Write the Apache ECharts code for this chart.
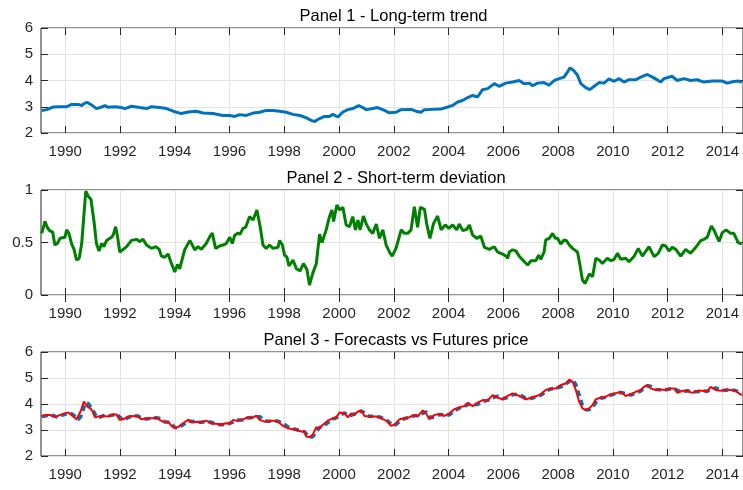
<!DOCTYPE html>
<html><head><meta charset="utf-8">
<script src="https://cdn.jsdelivr.net/npm/echarts@6/dist/echarts.min.js"></script>
<style>html,body{margin:0;padding:0;background:#fff}#c{width:743px;height:490px}</style>
</head><body><div id="c"></div>
<script>
const xTickYears = [1990,1992,1994,1996,1998,2000,2002,2004,2006,2008,2010,2012,2014];
const panelTitles = ['Panel 1 - Long-term trend','Panel 2 - Short-term deviation','Panel 3 - Forecasts vs Futures price'];

const p1Years = [1989.14,1989.32,1989.56,1989.81,1990.05,1990.23,1990.47,1990.60,1990.72,1990.80,1990.96,1991.14,1991.33,1991.45,1991.57,1991.81,1992.05,1992.18,1992.42,1992.72,1992.97,1993.15,1993.45,1993.70,1993.94,1994.24,1994.49,1994.79,1995.03,1995.40,1995.76,1996.01,1996.19,1996.37,1996.61,1996.86,1997.10,1997.34,1997.59,1997.83,1998.07,1998.32,1998.56,1998.80,1998.98,1999.11,1999.29,1999.47,1999.65,1999.77,1999.96,2000.14,2000.32,2000.50,2000.72,2000.87,2000.99,2001.23,2001.41,2001.66,2001.84,2002.08,2002.26,2002.63,2002.81,2002.99,2003.12,2003.42,2003.72,2003.97,2004.15,2004.33,2004.51,2004.70,2004.88,2005.06,2005.24,2005.43,2005.67,2005.85,2006.09,2006.34,2006.58,2006.76,2006.95,2007.07,2007.25,2007.49,2007.67,2007.86,2008.04,2008.22,2008.34,2008.44,2008.59,2008.71,2008.83,2009.01,2009.16,2009.32,2009.50,2009.68,2009.86,2010.05,2010.23,2010.41,2010.59,2010.84,2011.02,2011.26,2011.50,2011.75,2011.87,2012.17,2012.35,2012.60,2012.84,2013.08,2013.33,2013.63,2014.00,2014.18,2014.42,2014.60,2014.71];
const p1Trend = [2.86,2.89,2.99,3.00,3.00,3.09,3.09,3.05,3.14,3.17,3.07,2.93,2.99,3.04,2.98,3.00,2.97,2.93,3.02,2.97,2.93,3.00,2.97,2.93,2.83,2.74,2.80,2.83,2.76,2.74,2.67,2.67,2.63,2.70,2.67,2.76,2.79,2.86,2.86,2.83,2.79,2.71,2.67,2.58,2.48,2.44,2.55,2.63,2.63,2.71,2.61,2.80,2.89,2.93,3.04,2.97,2.89,2.93,2.97,2.86,2.77,2.79,2.89,2.90,2.83,2.79,2.89,2.90,2.91,2.99,3.05,3.18,3.24,3.35,3.43,3.37,3.65,3.69,3.88,3.78,3.90,3.94,4.00,3.88,3.90,3.80,3.90,3.92,3.82,4.00,4.07,4.13,4.32,4.48,4.36,4.20,3.88,3.73,3.65,3.78,3.92,3.90,4.06,3.97,4.07,3.94,4.03,4.03,4.13,4.23,4.10,3.94,4.07,4.16,4.00,4.07,4.00,4.03,3.94,3.98,3.98,3.90,3.96,3.98,3.93];

const p2Years = [1989.14,1989.26,1989.36,1989.44,1989.54,1989.62,1989.71,1989.81,1989.99,1990.05,1990.13,1990.23,1990.32,1990.41,1990.51,1990.60,1990.75,1990.84,1990.94,1991.05,1991.14,1991.23,1991.33,1991.41,1991.51,1991.69,1991.75,1991.84,1991.91,1991.99,1992.12,1992.24,1992.42,1992.60,1992.72,1992.84,1992.97,1993.15,1993.31,1993.43,1993.51,1993.63,1993.76,1993.85,1994.00,1994.10,1994.18,1994.36,1994.55,1994.64,1994.73,1994.85,1994.97,1995.15,1995.28,1995.37,1995.49,1995.64,1995.76,1995.88,1996.01,1996.10,1996.19,1996.31,1996.39,1996.49,1996.59,1996.73,1996.86,1997.00,1997.12,1997.22,1997.34,1997.46,1997.59,1997.77,1997.83,1997.93,1998.01,1998.10,1998.17,1998.32,1998.44,1998.58,1998.70,1998.83,1998.92,1999.04,1999.17,1999.29,1999.38,1999.53,1999.65,1999.74,1999.80,1999.92,2000.02,2000.14,2000.26,2000.38,2000.50,2000.60,2000.69,2000.77,2000.89,2000.99,2001.11,2001.23,2001.36,2001.48,2001.60,2001.72,2001.84,2001.94,2002.08,2002.27,2002.39,2002.51,2002.63,2002.75,2002.87,2002.97,2003.12,2003.20,2003.32,2003.45,2003.60,2003.73,2003.88,2004.01,2004.15,2004.30,2004.39,2004.52,2004.66,2004.76,2004.88,2005.03,2005.18,2005.31,2005.49,2005.67,2005.79,2005.97,2006.10,2006.16,2006.22,2006.34,2006.46,2006.58,2006.77,2006.89,2007.01,2007.19,2007.29,2007.37,2007.49,2007.55,2007.68,2007.80,2007.90,2007.98,2008.10,2008.22,2008.31,2008.41,2008.53,2008.71,2008.79,2008.89,2008.99,2009.14,2009.26,2009.38,2009.50,2009.62,2009.80,2009.93,2010.05,2010.17,2010.29,2010.47,2010.59,2010.78,2010.93,2011.08,2011.32,2011.51,2011.66,2011.81,2011.93,2012.05,2012.17,2012.30,2012.48,2012.66,2012.84,2013.03,2013.21,2013.33,2013.45,2013.60,2013.69,2013.88,2014.00,2014.14,2014.30,2014.42,2014.58,2014.71];
const p2Deviation = [0.587,0.70,0.635,0.61,0.60,0.476,0.49,0.54,0.55,0.62,0.59,0.49,0.435,0.333,0.35,0.49,0.99,0.94,0.91,0.70,0.49,0.42,0.49,0.46,0.52,0.55,0.57,0.65,0.556,0.41,0.435,0.46,0.52,0.53,0.51,0.53,0.476,0.444,0.46,0.435,0.37,0.36,0.39,0.32,0.22,0.29,0.25,0.43,0.52,0.476,0.43,0.46,0.435,0.49,0.556,0.59,0.444,0.467,0.476,0.49,0.55,0.49,0.57,0.59,0.58,0.635,0.645,0.746,0.714,0.81,0.65,0.476,0.444,0.476,0.444,0.454,0.52,0.476,0.38,0.36,0.276,0.333,0.25,0.23,0.30,0.24,0.095,0.206,0.30,0.58,0.50,0.62,0.746,0.81,0.70,0.857,0.81,0.835,0.667,0.65,0.746,0.62,0.714,0.62,0.752,0.68,0.62,0.587,0.676,0.54,0.62,0.476,0.41,0.37,0.444,0.62,0.587,0.587,0.62,0.84,0.644,0.835,0.816,0.68,0.54,0.68,0.752,0.62,0.667,0.635,0.667,0.62,0.676,0.613,0.625,0.667,0.57,0.54,0.56,0.454,0.435,0.46,0.41,0.39,0.37,0.35,0.41,0.43,0.42,0.37,0.317,0.286,0.327,0.327,0.38,0.34,0.41,0.524,0.54,0.587,0.54,0.54,0.486,0.524,0.517,0.476,0.444,0.41,0.30,0.143,0.11,0.20,0.175,0.35,0.333,0.30,0.35,0.327,0.34,0.397,0.34,0.35,0.317,0.37,0.444,0.37,0.46,0.365,0.397,0.476,0.467,0.42,0.454,0.435,0.37,0.435,0.397,0.454,0.517,0.53,0.55,0.657,0.62,0.51,0.594,0.62,0.587,0.587,0.498,0.486];

const p3Years = [1989.14,1989.32,1989.44,1989.56,1989.68,1989.81,1989.99,1990.11,1990.23,1990.41,1990.47,1990.56,1990.68,1990.75,1990.84,1990.92,1991.00,1991.08,1991.20,1991.39,1991.57,1991.75,1991.87,1991.99,1992.12,1992.30,1992.48,1992.66,1992.78,1992.97,1993.21,1993.33,1993.45,1993.63,1993.76,1993.88,1994.00,1994.12,1994.30,1994.49,1994.61,1994.79,1994.97,1995.15,1995.34,1995.52,1995.70,1995.86,1996.01,1996.13,1996.31,1996.49,1996.67,1996.80,1996.98,1997.10,1997.28,1997.40,1997.59,1997.77,1997.95,1998.13,1998.32,1998.50,1998.62,1998.74,1998.80,1998.92,1999.04,1999.17,1999.29,1999.41,1999.59,1999.77,1999.90,2000.02,2000.20,2000.32,2000.44,2000.56,2000.69,2000.81,2000.93,2001.11,2001.36,2001.54,2001.72,2001.90,2002.02,2002.21,2002.39,2002.57,2002.75,2002.87,2003.06,2003.18,2003.30,2003.48,2003.67,2003.85,2004.03,2004.21,2004.39,2004.58,2004.70,2004.88,2005.06,2005.25,2005.43,2005.61,2005.79,2005.97,2006.16,2006.34,2006.52,2006.70,2006.83,2006.95,2007.13,2007.31,2007.43,2007.55,2007.74,2007.92,2008.10,2008.28,2008.41,2008.53,2008.65,2008.77,2008.89,2009.01,2009.14,2009.26,2009.38,2009.56,2009.74,2009.93,2010.11,2010.29,2010.47,2010.66,2010.84,2011.02,2011.14,2011.26,2011.38,2011.57,2011.75,2011.93,2012.05,2012.24,2012.36,2012.54,2012.72,2012.90,2013.09,2013.27,2013.45,2013.57,2013.76,2013.94,2014.12,2014.30,2014.48,2014.61,2014.71];
const p3Futures = [3.54,3.58,3.58,3.52,3.52,3.58,3.64,3.67,3.58,3.41,3.39,3.71,4.09,4.03,3.87,3.83,3.71,3.49,3.52,3.54,3.52,3.60,3.60,3.39,3.41,3.52,3.54,3.52,3.41,3.45,3.45,3.48,3.39,3.29,3.32,3.16,3.07,3.11,3.26,3.39,3.29,3.32,3.29,3.36,3.24,3.24,3.20,3.26,3.24,3.39,3.35,3.41,3.49,3.45,3.55,3.39,3.32,3.35,3.36,3.32,3.16,3.07,3.03,2.98,2.94,2.94,2.75,2.73,2.82,3.11,3.07,3.20,3.36,3.45,3.49,3.67,3.64,3.49,3.64,3.58,3.71,3.75,3.54,3.52,3.52,3.45,3.36,3.16,3.20,3.41,3.45,3.49,3.58,3.52,3.75,3.64,3.41,3.58,3.62,3.54,3.64,3.80,3.87,3.92,4.05,3.92,4.05,4.15,4.13,4.34,4.25,4.18,4.31,4.41,4.34,4.25,4.18,4.22,4.28,4.34,4.43,4.54,4.60,4.60,4.73,4.79,4.94,4.85,4.54,4.09,3.83,3.77,3.83,3.96,4.18,4.25,4.28,4.38,4.41,4.47,4.31,4.38,4.47,4.54,4.66,4.73,4.60,4.54,4.56,4.54,4.60,4.60,4.43,4.51,4.51,4.43,4.51,4.51,4.47,4.66,4.54,4.51,4.56,4.54,4.51,4.41,4.34];
const p3Forecast = [3.52,3.55,3.58,3.56,3.50,3.54,3.60,3.65,3.63,3.48,3.40,3.50,3.85,4.05,4.02,3.90,3.80,3.62,3.46,3.55,3.54,3.58,3.62,3.50,3.38,3.48,3.55,3.54,3.46,3.42,3.46,3.47,3.44,3.32,3.30,3.24,3.10,3.07,3.20,3.35,3.34,3.30,3.30,3.33,3.30,3.22,3.20,3.22,3.26,3.30,3.38,3.38,3.46,3.48,3.50,3.52,3.36,3.33,3.36,3.34,3.26,3.12,3.05,3.00,2.96,2.93,2.85,2.72,2.74,2.92,3.10,3.12,3.28,3.42,3.47,3.56,3.66,3.56,3.56,3.62,3.64,3.73,3.66,3.52,3.53,3.48,3.40,3.24,3.16,3.32,3.44,3.48,3.55,3.56,3.64,3.70,3.50,3.48,3.60,3.58,3.58,3.72,3.84,3.90,3.98,3.98,3.98,4.10,4.14,4.24,4.30,4.20,4.25,4.36,4.38,4.30,4.20,4.20,4.25,4.31,4.38,4.49,4.58,4.60,4.66,4.76,4.86,4.94,4.75,4.35,3.95,3.78,3.78,3.88,4.06,4.22,4.26,4.34,4.40,4.44,4.40,4.34,4.43,4.50,4.60,4.70,4.68,4.56,4.55,4.55,4.57,4.60,4.52,4.46,4.51,4.47,4.47,4.51,4.49,4.56,4.62,4.52,4.53,4.55,4.52,4.46,4.38];

const zip = (xs, ys) => xs.map((x, i) => [x, ys[i]]);
const xMin = 1989.114, xMax = 2014.755;
const FONT = 'Liberation Sans, Arial, Helvetica, sans-serif';
const AX = '#262626';
const GRIDC = '#e3e3e3';

const grids = [
  {left: 41, top: 28, width: 703, height: 105},
  {left: 41, top: 190, width: 703, height: 105},
  {left: 41, top: 352, width: 703, height: 104}
].map(g => Object.assign(g, {show: true, borderColor: AX, borderWidth: 1, backgroundColor: 'transparent'}));

const yRanges = [[2, 6, 1], [0, 1, 0.5], [2, 6, 1]];
const xAxes = [], yAxes = [];
for (let i = 0; i < 3; i++) {
  xAxes.push({
    type: 'value', gridIndex: i, position: 'bottom', min: xMin, max: xMax,
    axisLine: {show: false},
    axisTick: {show: true, inside: true, length: 7, customValues: xTickYears, lineStyle: {color: AX, width: 1}},
    axisLabel: {show: true, customValues: xTickYears, margin: 11, color: AX, fontSize: 15, fontFamily: FONT, formatter: v => String(v)},
    splitLine: {show: true, lineStyle: {color: GRIDC, width: 1}}
  });
  xAxes.push({
    type: 'value', gridIndex: i, position: 'top', min: xMin, max: xMax,
    axisLine: {show: false},
    axisTick: {show: true, inside: true, length: 7, customValues: xTickYears, lineStyle: {color: AX, width: 1}},
    axisLabel: {show: false},
    splitLine: {show: false}
  });
  const [mn, mx, iv] = yRanges[i];
  yAxes.push({
    type: 'value', gridIndex: i, position: 'left', min: mn, max: mx, interval: iv,
    axisLine: {show: false},
    axisTick: {show: true, inside: true, length: 7, lineStyle: {color: AX, width: 1}},
    axisLabel: {show: true, margin: 8, color: AX, fontSize: 15, fontFamily: FONT},
    splitLine: {show: true, lineStyle: {color: GRIDC, width: 1}}
  });
  yAxes.push({
    type: 'value', gridIndex: i, position: 'right', min: mn, max: mx, interval: iv,
    axisLine: {show: false},
    axisTick: {show: true, inside: true, length: 7, lineStyle: {color: AX, width: 1}},
    axisLabel: {show: false},
    splitLine: {show: false}
  });
}

const titleCenters = [388.5, 391, 391];
const titleTops = [3, 165, 327];
const titles = panelTitles.map((t, i) => ({
  text: t, left: titleCenters[i], top: titleTops[i], textAlign: 'center',
  textStyle: {fontSize: 16.5, fontWeight: 'normal', color: '#000', fontFamily: FONT}
}));

const chart = echarts.init(document.getElementById('c'), null, {renderer: 'canvas'});
chart.setOption({
  animation: false,
  backgroundColor: '#fff',
  title: titles,
  grid: grids,
  xAxis: xAxes,
  yAxis: yAxes,
  series: [
    {type: 'line', xAxisIndex: 0, yAxisIndex: 0, data: zip(p1Years, p1Trend), showSymbol: false,
     lineStyle: {color: '#0072BD', width: 3}, itemStyle: {color: '#0072BD'}},
    {type: 'line', xAxisIndex: 2, yAxisIndex: 2, data: zip(p2Years, p2Deviation), showSymbol: false,
     lineStyle: {color: '#008000', width: 3}, itemStyle: {color: '#008000'}},
    {type: 'line', xAxisIndex: 4, yAxisIndex: 4, data: zip(p3Years, p3Forecast), showSymbol: false,
     lineStyle: {color: '#0072BD', width: 3.5, type: [6, 4]}, itemStyle: {color: '#0072BD'}},
    {type: 'line', xAxisIndex: 4, yAxisIndex: 4, data: zip(p3Years, p3Futures), showSymbol: false,
     lineStyle: {color: '#FF0000', width: 2}, itemStyle: {color: '#FF0000'}}
  ]
});
</script>
</body></html>
